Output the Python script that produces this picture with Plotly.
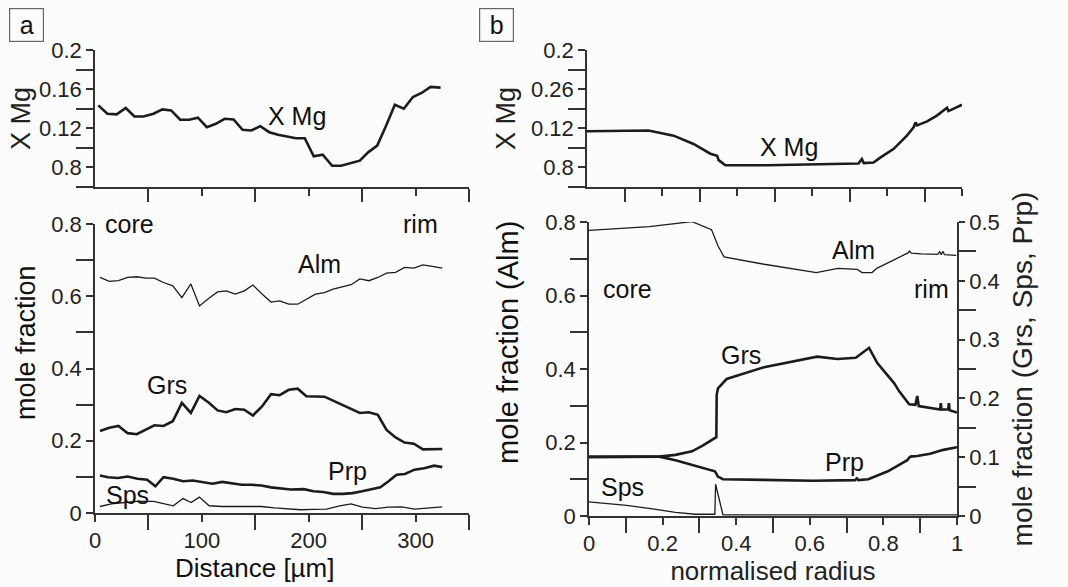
import plotly.graph_objects as go

# ---------------- Panel a (distance profile) ----------------
a_dist = [3.1, 11.6, 20.3, 28.8, 36.9, 45.3, 54.7, 63.1, 71.3, 79.7, 88.1, 96.3, 104.7,
          113.1, 121.3, 129.7, 138.1, 146.3, 154.7, 163.1, 171.3, 179.7, 188.1, 196.3,
          204.7, 213.1, 221.9, 230.3, 238.4, 247.8, 255.6, 264.1, 272.5, 280.6, 289.0,
          297.5, 305.6, 314.0, 323.4]
a_xmg = [0.1434, 0.1349, 0.1342, 0.1407, 0.1321, 0.1321, 0.1349, 0.1393, 0.1383, 0.1287,
         0.1287, 0.1308, 0.1212, 0.1246, 0.1297, 0.1290, 0.1184, 0.1177, 0.1222, 0.1160,
         0.1133, 0.1116, 0.1098, 0.1098, 0.0913, 0.0930, 0.0817, 0.0817, 0.0841, 0.0869,
         0.0954, 0.1023, 0.1229, 0.1441, 0.1400, 0.1520, 0.1561, 0.1623, 0.1616]

a_dist2 = [4.7, 13.4, 21.9, 30.6, 39.1, 47.5, 55.6, 64.1, 72.8, 81.3, 89.7, 97.8, 106.3,
           114.7, 122.8, 131.3, 139.7, 147.8, 156.3, 164.7, 172.8, 181.3, 189.7, 197.8,
           206.3, 214.7, 222.8, 231.3, 239.7, 247.8, 256.3, 264.7, 272.8, 281.3, 289.7,
           298.4, 306.9, 315.6, 325.0]
a_alm = [0.652, 0.641, 0.643, 0.652, 0.654, 0.650, 0.650, 0.638, 0.629, 0.596, 0.634, 0.573,
         0.594, 0.612, 0.615, 0.606, 0.615, 0.631, 0.606, 0.584, 0.587, 0.578, 0.578, 0.592,
         0.606, 0.610, 0.620, 0.626, 0.632, 0.648, 0.643, 0.652, 0.664, 0.666, 0.680, 0.678,
         0.687, 0.683, 0.678]
a_grs = [0.227, 0.236, 0.241, 0.221, 0.218, 0.230, 0.243, 0.241, 0.254, 0.305, 0.277, 0.324,
         0.306, 0.284, 0.279, 0.288, 0.286, 0.270, 0.295, 0.329, 0.326, 0.341, 0.344, 0.323,
         0.322, 0.322, 0.311, 0.300, 0.288, 0.277, 0.279, 0.272, 0.230, 0.209, 0.195, 0.192,
         0.176, 0.176, 0.177]

a_dist_prp = [4.6, 12.2, 21.4, 30.5, 39.7, 48.8, 56.5, 64.1, 73.2, 82.4, 91.6, 100.7, 109.9,
              119.0, 128.2, 137.3, 146.5, 155.7, 164.8, 174.0, 183.1, 195.3, 204.5, 213.6,
              222.8, 232.0, 241.0, 250.0, 259.4, 267.0, 274.7, 282.3, 290.0, 299.0, 308.0,
              317.4, 325.0]
a_prp = [0.104, 0.099, 0.097, 0.101, 0.095, 0.092, 0.074, 0.099, 0.095, 0.088, 0.090, 0.085,
         0.081, 0.086, 0.083, 0.078, 0.078, 0.076, 0.071, 0.067, 0.065, 0.066, 0.060, 0.058,
         0.053, 0.053, 0.055, 0.060, 0.065, 0.071, 0.088, 0.106, 0.108, 0.120, 0.124, 0.131,
         0.127]

a_dist_sps = [4.6, 15.3, 27.5, 39.7, 54.9, 64.1, 73.2, 82.4, 90.0, 97.7, 106.8, 119.0, 131.2,
              143.4, 155.7, 167.9, 180.0, 192.3, 204.5, 216.7, 229.0, 239.6, 250.3, 262.5,
              274.7, 287.0, 299.0, 311.3, 325.0]
a_sps = [0.018, 0.025, 0.029, 0.032, 0.032, 0.027, 0.020, 0.040, 0.029, 0.044, 0.020, 0.018,
         0.018, 0.019, 0.018, 0.014, 0.011, 0.009, 0.010, 0.011, 0.020, 0.025, 0.016, 0.012,
         0.016, 0.017, 0.011, 0.014, 0.017]

# ---------------- Panel b (normalised radius) ----------------
b_r_xmg = [0.0, 0.164, 0.231, 0.284, 0.329, 0.347, 0.351, 0.369, 0.48, 0.724, 0.733, 0.738,
           0.764, 0.782, 0.818, 0.853, 0.871, 0.876, 0.88, 0.907, 0.933, 0.96, 0.964, 1.0]
b_xmg = [0.117, 0.1177, 0.1125, 0.104, 0.094, 0.092, 0.0875, 0.0823, 0.0823, 0.084, 0.0885,
         0.0844, 0.085, 0.090, 0.099, 0.1125, 0.121, 0.126, 0.123, 0.127, 0.133, 0.141, 0.1376,
         0.144]

b_r_alm = [0.0, 0.164, 0.28, 0.333, 0.351, 0.367, 0.476, 0.618, 0.676, 0.729, 0.742, 0.769,
           0.782, 0.867, 0.871, 0.876, 0.902, 0.947, 0.953, 0.957, 0.962, 0.966, 0.998]
b_alm = [0.777, 0.7875, 0.801, 0.779, 0.734, 0.705, 0.685, 0.6625, 0.674, 0.671, 0.6625,
         0.6625, 0.674, 0.716, 0.721, 0.715, 0.713, 0.712, 0.719, 0.711, 0.720, 0.711, 0.709]

b_r_grs = [0.0, 0.191, 0.235, 0.28, 0.31, 0.342, 0.346, 0.347, 0.3505, 0.374, 0.4755, 0.620,
           0.675, 0.725, 0.761, 0.7835, 0.829, 0.843, 0.870, 0.887, 0.892, 0.896, 0.927,
           0.954, 0.956, 0.958, 0.976, 0.978, 0.980, 1.0]
b_grs = [0.100, 0.101, 0.104, 0.110, 0.120, 0.132, 0.134, 0.206, 0.217, 0.233, 0.253, 0.271,
         0.267, 0.269, 0.286, 0.260, 0.226, 0.212, 0.190, 0.189, 0.204, 0.187, 0.184, 0.181,
         0.192, 0.181, 0.181, 0.192, 0.180, 0.176]

b_r_prp = [0.0, 0.191, 0.235, 0.28, 0.324, 0.342, 0.346, 0.35, 0.364, 0.501, 0.608, 0.723,
           0.728, 0.732, 0.759, 0.812, 0.865, 0.870, 0.874, 0.892, 0.927, 0.963, 1.0]
b_prp = [0.101, 0.101, 0.095, 0.087, 0.078, 0.076, 0.072, 0.067, 0.0625, 0.061, 0.060, 0.061,
         0.064, 0.061, 0.0625, 0.076, 0.095, 0.099, 0.101, 0.102, 0.106, 0.1125, 0.117]

b_r_sps = [0.0, 0.102, 0.173, 0.235, 0.288, 0.342, 0.344, 0.364, 1.0]
b_sps = [0.024, 0.018, 0.012, 0.006, 0.003, 0.003, 0.054, 0.002, 0.002]

# tick labels as printed in the figure
xmg_tickvals = [0.08, 0.12, 0.16, 0.20]
a_xmg_ticktext = ["0.8", "0.12", "0.16", "0.2"]
b_xmg_ticktext = ["0.8", "0.12", "0.26", "0.2"]

INK = "#1c1c1c"
AX = "#333333"
FONT = "Liberation Sans, Arial, sans-serif"
W, H = 1068, 587


def px_x(p):
    return p / W


def px_y(p):
    return 1 - p / H


fig = go.Figure()
thick = dict(color=INK, width=2.6)
thin = dict(color=INK, width=1.3)

fig.add_trace(go.Scatter(x=a_dist, y=a_xmg, mode="lines", line=thick, xaxis="x", yaxis="y", name="X Mg"))
fig.add_trace(go.Scatter(x=a_dist2, y=a_alm, mode="lines", line=thin, xaxis="x2", yaxis="y2", name="Alm"))
fig.add_trace(go.Scatter(x=a_dist2, y=a_grs, mode="lines", line=thick, xaxis="x2", yaxis="y2", name="Grs"))
fig.add_trace(go.Scatter(x=a_dist_prp, y=a_prp, mode="lines", line=thick, xaxis="x2", yaxis="y2", name="Prp"))
fig.add_trace(go.Scatter(x=a_dist_sps, y=a_sps, mode="lines", line=thin, xaxis="x2", yaxis="y2", name="Sps"))

fig.add_trace(go.Scatter(x=b_r_xmg, y=b_xmg, mode="lines", line=thick, xaxis="x3", yaxis="y3", name="X Mg"))
fig.add_trace(go.Scatter(x=b_r_alm, y=b_alm, mode="lines", line=thin, xaxis="x4", yaxis="y4", name="Alm"))
fig.add_trace(go.Scatter(x=b_r_grs, y=b_grs, mode="lines", line=thick, xaxis="x4", yaxis="y5", name="Grs"))
fig.add_trace(go.Scatter(x=b_r_prp, y=b_prp, mode="lines", line=thick, xaxis="x4", yaxis="y5", name="Prp"))
fig.add_trace(go.Scatter(x=b_r_sps, y=b_sps, mode="lines", line=thin, xaxis="x4", yaxis="y5", name="Sps"))

tickfont = dict(family=FONT, size=22, color="#222")
titlefont = dict(family=FONT, size=26, color="#222")


def minor(vals, length):
    return dict(tickvals=vals, ticklen=length, ticks="outside", tickcolor=AX, tickwidth=1.6)


def axis_common():
    return dict(showline=True, linecolor=AX, linewidth=1.6, showgrid=False, zeroline=False,
                ticks="outside", tickcolor=AX, tickwidth=1.6, tickfont=tickfont,
                tickmode="array", fixedrange=True, automargin=False)


dom_a = [px_x(95), px_x(469)]
dom_b_top = [px_x(587), px_x(962)]
dom_b_bot = [px_x(589), px_x(957)]
dom_top = [px_y(187), px_y(50)]
dom_a_bot = [px_y(513), px_y(224)]
dom_b_bot_y = [px_y(516), px_y(222)]

fig.update_layout(
    xaxis=dict(axis_common(), domain=dom_a, range=[0, 350], anchor="y",
               tickvals=[50, 150, 250, 350], ticklen=13, showticklabels=False,
               minor=minor([100, 200, 300], 7)),
    yaxis=dict(axis_common(), domain=dom_top, range=[0.06, 0.2], anchor="x",
               tickvals=xmg_tickvals, ticktext=a_xmg_ticktext, ticklen=7,
               minor=minor([0.06, 0.10, 0.14, 0.18], 17),
               title=dict(text="X Mg", font=dict(titlefont, size=27), standoff=1)),
    xaxis2=dict(axis_common(), domain=dom_a, range=[0, 350], anchor="y2",
                tickvals=[0, 100, 200, 300], ticklen=7,
                minor=minor([50, 150, 250, 350], 15)),
    yaxis2=dict(axis_common(), domain=dom_a_bot, range=[0, 0.8], anchor="x2",
                tickvals=[0, 0.2, 0.4, 0.6, 0.8], ticktext=["0", "0.2", "0.4", "0.6", "0.8"], ticklen=7,
                minor=minor([0.1, 0.3, 0.5, 0.7], 17)),
    xaxis3=dict(axis_common(), domain=dom_b_top, range=[0, 1], anchor="y3",
                tickvals=[0.1, 0.3, 0.5, 0.7, 0.9], ticklen=13, showticklabels=False,
                minor=minor([0.2, 0.4, 0.6, 0.8, 1.0], 7)),
    yaxis3=dict(axis_common(), domain=dom_top, range=[0.06, 0.2], anchor="x3",
                tickvals=xmg_tickvals, ticktext=b_xmg_ticktext, ticklen=7,
                minor=minor([0.06, 0.10, 0.14, 0.18], 17),
                title=dict(text="X Mg", font=dict(titlefont, size=27), standoff=8)),
    xaxis4=dict(axis_common(), domain=dom_b_bot, range=[0, 1], anchor="y4",
                tickvals=[0, 0.2, 0.4, 0.6, 0.8, 1.0], ticktext=["0", "0.2", "0.4", "0.6", "0.8", "1"], ticklen=7,
                minor=minor([0.1, 0.3, 0.5, 0.7, 0.9], 15),
                title=dict(text="normalised radius", font=titlefont, standoff=4)),
    yaxis4=dict(axis_common(), domain=dom_b_bot_y, range=[0, 0.8], anchor="x4",
                tickvals=[0, 0.2, 0.4, 0.6, 0.8], ticktext=["0", "0.2", "0.4", "0.6", "0.8"], ticklen=7,
                minor=minor([0.1, 0.3, 0.5, 0.7], 17)),
    yaxis5=dict(axis_common(), range=[0, 0.5], anchor="x4", overlaying="y4", side="right",
                tickvals=[0, 0.1, 0.2, 0.3, 0.4, 0.5], ticktext=["0", "0.1", "0.2", "0.3", "0.4", "0.5"], ticklen=6,
                minor=minor([0.05, 0.15, 0.25, 0.35, 0.45], 17),
                title=dict(text="mole fraction (Grs, Sps, Prp)", font=dict(titlefont, size=28), standoff=14)),
)

ann = []


def lab(text, x, y, xref, yref, xanchor="center", yanchor="middle", size=25, angle=0):
    ann.append(dict(text=text, x=x, y=y, xref=xref, yref=yref, showarrow=False,
                    xanchor=xanchor, yanchor=yanchor, textangle=angle,
                    font=dict(family=FONT, size=size, color="#111")))


# axis titles placed as in the figure
lab("mole fraction", px_x(26), px_y(343), "paper", "paper", angle=-90, size=27)
lab("mole fraction (Alm)", px_x(508), px_y(343), "paper", "paper", angle=-90, size=29)
lab("Distance [µm]", px_x(254), px_y(568), "paper", "paper", size=26)

# panel a labels
lab("X Mg", 189, 0.133, "x", "y")
lab("core", 7.5, 0.8, "x2", "y2", xanchor="left")
lab("rim", 323, 0.8, "x2", "y2", xanchor="right")
lab("Alm", 210.5, 0.69, "x2", "y2")
lab("Grs", 67.6, 0.354, "x2", "y2")
lab("Prp", 236.5, 0.115, "x2", "y2")
lab("Sps", 30.5, 0.05, "x2", "y2")

# panel b labels
lab("X Mg", 0.538, 0.1005, "x3", "y3")
lab("core", 0.032, 0.619, "x4", "y4", xanchor="left")
lab("rim", 0.985, 0.619, "x4", "y4", xanchor="right")
lab("Alm", 0.72, 0.724, "x4", "y4")
lab("Grs", 0.412, 0.439, "x4", "y4")
lab("Prp", 0.693, 0.148, "x4", "y4")
lab("Sps", 0.09, 0.08, "x4", "y4")

# panel letters in boxes
for letter, cx in (("a", 26.5), ("b", 496.5)):
    ann.append(dict(text=letter, x=px_x(cx), y=px_y(25), xref="paper", yref="paper",
                    showarrow=False, xanchor="center", yanchor="middle",
                    width=31, height=30, borderpad=1, bordercolor="#666", borderwidth=1.2,
                    font=dict(family=FONT, size=25, color="#111")))

fig.update_layout(
    template="none",
    annotations=ann,
    width=W, height=H,
    autosize=False,
    margin=dict(l=0, r=0, t=0, b=0, pad=0),
    paper_bgcolor="#fcfcfc", plot_bgcolor="#fcfcfc",
    showlegend=False,
    font=dict(family=FONT, color="#222"),
)

fig.write_html("out.html", config={"displayModeBar": False},
               post_script="document.body.style.margin='0px';document.body.style.overflow='hidden';")
